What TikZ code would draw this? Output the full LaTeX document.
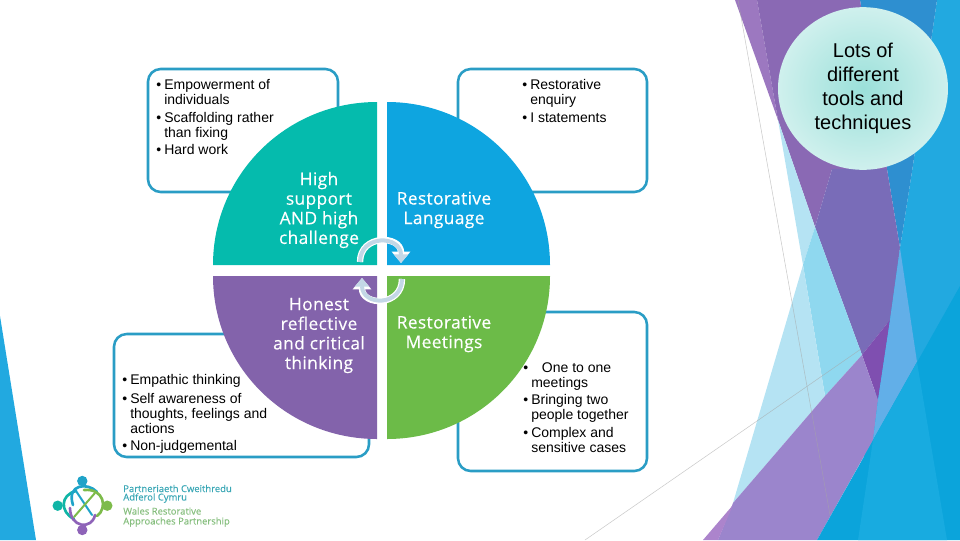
\documentclass[tikz,border=0pt]{standalone}
\usepackage{fontspec}
\setmainfont{Liberation Sans}
\newfontfamily\quadfont[LetterSpace=2.2,FakeBold=0.35]{Open Sans}
\newfontfamily\logofont[FakeBold=0.3]{Open Sans}
\usetikzlibrary{arrows.meta,shapes.geometric}
\definecolor{quadteal}{HTML}{05BBAD}
\definecolor{quadblue}{HTML}{0EA5E0}
\definecolor{quadpurple}{HTML}{8363AB}
\definecolor{quadgreen}{HTML}{6CBB48}
\definecolor{boxline}{HTML}{2A9DC5}
\definecolor{arrowfill}{HTML}{C3D7E6}
\definecolor{facetlilac}{HTML}{9C78C0}
\definecolor{facetpurple}{HTML}{8A69B4}
\definecolor{facetdeep}{HTML}{796CB8}
\definecolor{facetdark}{HTML}{7F4FB0}
\definecolor{facetlav}{HTML}{9B85CC}
\definecolor{facetlavlt}{HTML}{AC84CC}
\definecolor{facetpale}{HTML}{B5E3F3}
\definecolor{facetsky}{HTML}{8FD8EF}
\definecolor{facetmid}{HTML}{62AFE8}
\definecolor{facetsteel}{HTML}{2E8FD0}
\definecolor{facetblue}{HTML}{22A9E0}
\definecolor{facetlow}{HTML}{0BA4DB}
\definecolor{facetstrip}{HTML}{18ABE0}
\definecolor{logoblue}{HTML}{1FA3C8}
\definecolor{logoteal}{HTML}{10B5A6}
\definecolor{logogreen}{HTML}{7DBB4A}
\definecolor{logopurple}{HTML}{8E63B8}
\definecolor{logotxtblue}{HTML}{3AA7B5}
\definecolor{logotxtgreen}{HTML}{86BE7E}
\newcommand{\bul}{\makebox[6pt][l]{\textbullet}}
\newcommand{\hng}{\hspace*{6pt}}
\begin{document}
\begin{tikzpicture}[
  x=0.75pt, y=-0.75pt,
  facet/.style={fill=#1, draw=none},
  facetline/.style={draw=gray!70, line width=0.4pt, opacity=0.6},
  txtbox/.style={draw=boxline, line width=1.9pt, rounded corners=9.5pt, fill=white},
  quadlbl/.style={font={\quadfont\fontsize{13}{14.7}\selectfont}, text=white, align=center, inner sep=0pt},
  bullets/.style={font={\fontsize{10.5}{11.25}\selectfont}, text=black, align=left, anchor=north west, inner sep=0pt},
  arrowback/.style={draw=white, line width=4.8pt, -{Triangle[width=13.5pt,length=8.5pt]}},
  arrowfront/.style={draw=arrowfill, line width=3pt, -{Triangle[width=10.5pt,length=6.5pt]}},
  logoarc/.style={line width=2pt, line cap=round},
  logotext/.style={font={\logofont\fontsize{7.1}{7.5}\selectfont}, anchor=west, inner sep=0pt}
]
\useasboundingbox (0,0) rectangle (960,540);
% background facets
\fill[facet=facetblue] (0,316) -- (36,540) -- (0,540) -- cycle;
\fill[facet=facetblue] (937,0) -- (960,0) -- (960,320) -- (860,480) -- (900,248) -- (913,165) -- cycle;
\fill[facet=facetsteel] (860,0) -- (937,0) -- (913,165) -- (900,248) -- (887,169) -- cycle;
\fill[facet=facetlilac] (735,0) -- (757,0) -- (778,120) -- cycle;
\fill[facet=facetpurple] (757,0) -- (860,0) -- (887,169) -- (832,169) -- (815,227) -- (778,120) -- cycle;
\fill[facet=facetdeep] (832,169) -- (887,169) -- (900,248) -- (890,320) -- (862,355) -- (815,227) -- cycle;
\fill[facet=facetdark] (862,355) -- (890,320) -- (878,400) -- cycle;
\fill[facet=facetpale] (778,120) -- (815,227) -- (803,265) -- cycle;
\fill[facet=facetsky] (815,227) -- (803,265) -- (825,396) -- (862,355) -- cycle;
\fill[facet=facetpale] (803,265) -- (733,503) -- (825,396) -- cycle;
\fill[facet=facetlav] (733,503) -- (825,396) -- (862,355) -- (878,400) -- (873,440) -- (817,540) -- (718,540) -- cycle;
\fill[facet=facetlavlt] (703,540) -- (733,505) -- (718,540) -- cycle;
\fill[facet=facetmid] (900,248) -- (917,362) -- (873,440) -- (878,400) -- (890,320) -- cycle;
\fill[facet=facetlow] (817,540) -- (960,286) -- (960,540) -- cycle;
\fill[facet=facetstrip] (873,440) -- (858,540) -- (947,540) -- (917,362) -- cycle;
\draw[facetline] (738,0) -- (830,515);
\draw[facetline] (585,540) -- (861,349);
% text boxes
\draw[txtbox] (148,69) rectangle (338,192);
\draw[txtbox] (458,69) rectangle (647,192);
\draw[txtbox] (114,334) rectangle (369,457);
\draw[txtbox] (458,312) rectangle (647,471);
% quadrants
\fill[quadteal] (377,265) -- (213,265) .. controls (213,174.4) and (286.4,102) .. (377,102) -- cycle;
\fill[quadblue] (387,265) -- (550,265) .. controls (550,174.4) and (477,102) .. (387,102) -- cycle;
\fill[quadpurple] (377,276) -- (213,276) .. controls (213,366.6) and (286.4,439) .. (377,439) -- cycle;
\fill[quadgreen] (387,276) -- (550,276) .. controls (550,366.6) and (477,439) .. (387,439) -- cycle;
\node[quadlbl] (lblTeal) at (319,210) {High\\support\\AND high\\challenge};
\node[quadlbl] (lblBlue) at (444,210) {Restorative\\Language};
\node[quadlbl] (lblPurple) at (319,335.5) {Honest\\reflective\\and critical\\thinking};
\node[quadlbl] (lblGreen) at (444,334) {Restorative\\Meetings};
% cycle arrows
\coordinate (arrTopA) at (360,262);
\coordinate (arrTopB) at (401,263);
\coordinate (arrLowA) at (402,279);
\coordinate (arrLowB) at (362,278);
\draw[arrowback] (arrTopA) .. controls +(0,-28) and +(0,-28) .. (arrTopB);
\draw[arrowfront] (arrTopA) .. controls +(0,-28) and +(0,-28) .. (arrTopB);
\draw[arrowback] (arrLowA) .. controls +(0,28) and +(0,28) .. (arrLowB);
\draw[arrowfront] (arrLowA) .. controls +(0,28) and +(0,28) .. (arrLowB);
% lists
\node[bullets] (listTL) at (156,79) {\bul Empowerment of\\\hng individuals\\[2.2pt]\bul Scaffolding rather\\\hng than fixing\\[1.6pt]\bul Hard work};
\node[bullets] (listTR) at (522,79) {\bul Restorative\\\hng enquiry\\[2.2pt]\bul I statements};
\node[bullets] (listBL) at (122,374) {\bul Empathic thinking\\[3pt]\bul Self awareness of\\\hng thoughts, feelings and\\\hng actions\\[1.6pt]\bul Non-judgemental};
\node[bullets] (listBR) at (523,362) {\bul\hspace*{8pt}One to one\\\hng meetings\\[2.2pt]\bul Bringing two\\\hng people together\\[1.9pt]\bul Complex and\\\hng sensitive cases};
% callout
\node[ellipse, inner sep=0pt, minimum width=127.5pt, minimum height=122pt, inner color=logoteal!42!white, outer color=logoteal!20!white, align=center,
  font={\fontsize{15}{18}\selectfont}] (callout) at (863,88.5) {Lots of\\different\\tools and\\techniques};
% logo
\fill[logoblue] (82.3,481) circle[radius=3.9pt];
\fill[logoteal] (57.7,505.7) circle[radius=3.9pt];
\fill[logogreen] (107.3,505.7) circle[radius=3.9pt];
\fill[logopurple] (82.3,530) circle[radius=3.9pt];
\draw[logoarc, logoteal] (74,519) .. controls (60,512) and (60,495) .. (76,491);
\draw[logoarc, logoblue] (73,505) .. controls (66,484) and (88,482) .. (97,492);
\draw[logoarc, logogreen] (84,490) .. controls (104,488) and (108,508) .. (97,516);
\draw[logoarc, logopurple] (95,515) .. controls (92,530) and (70,528) .. (70,508);
\draw[logoarc, logoblue, line width=1.5pt] (76,491) -- (92,515);
\draw[logoarc, logogreen, line width=1.5pt] (95,493) -- (74,517);
\node[logotext, text=logotxtblue] (logoA) at (123,488.5) {Partneriaeth Cweithredu};
\node[logotext, text=logotxtblue] (logoB) at (123,498) {Adferol Cymru};
\node[logotext, text=logotxtgreen] (logoC) at (123,511) {Wales Restorative};
\node[logotext, text=logotxtgreen] (logoD) at (123,522) {Approaches Partnership};
\end{tikzpicture}
\end{document}
